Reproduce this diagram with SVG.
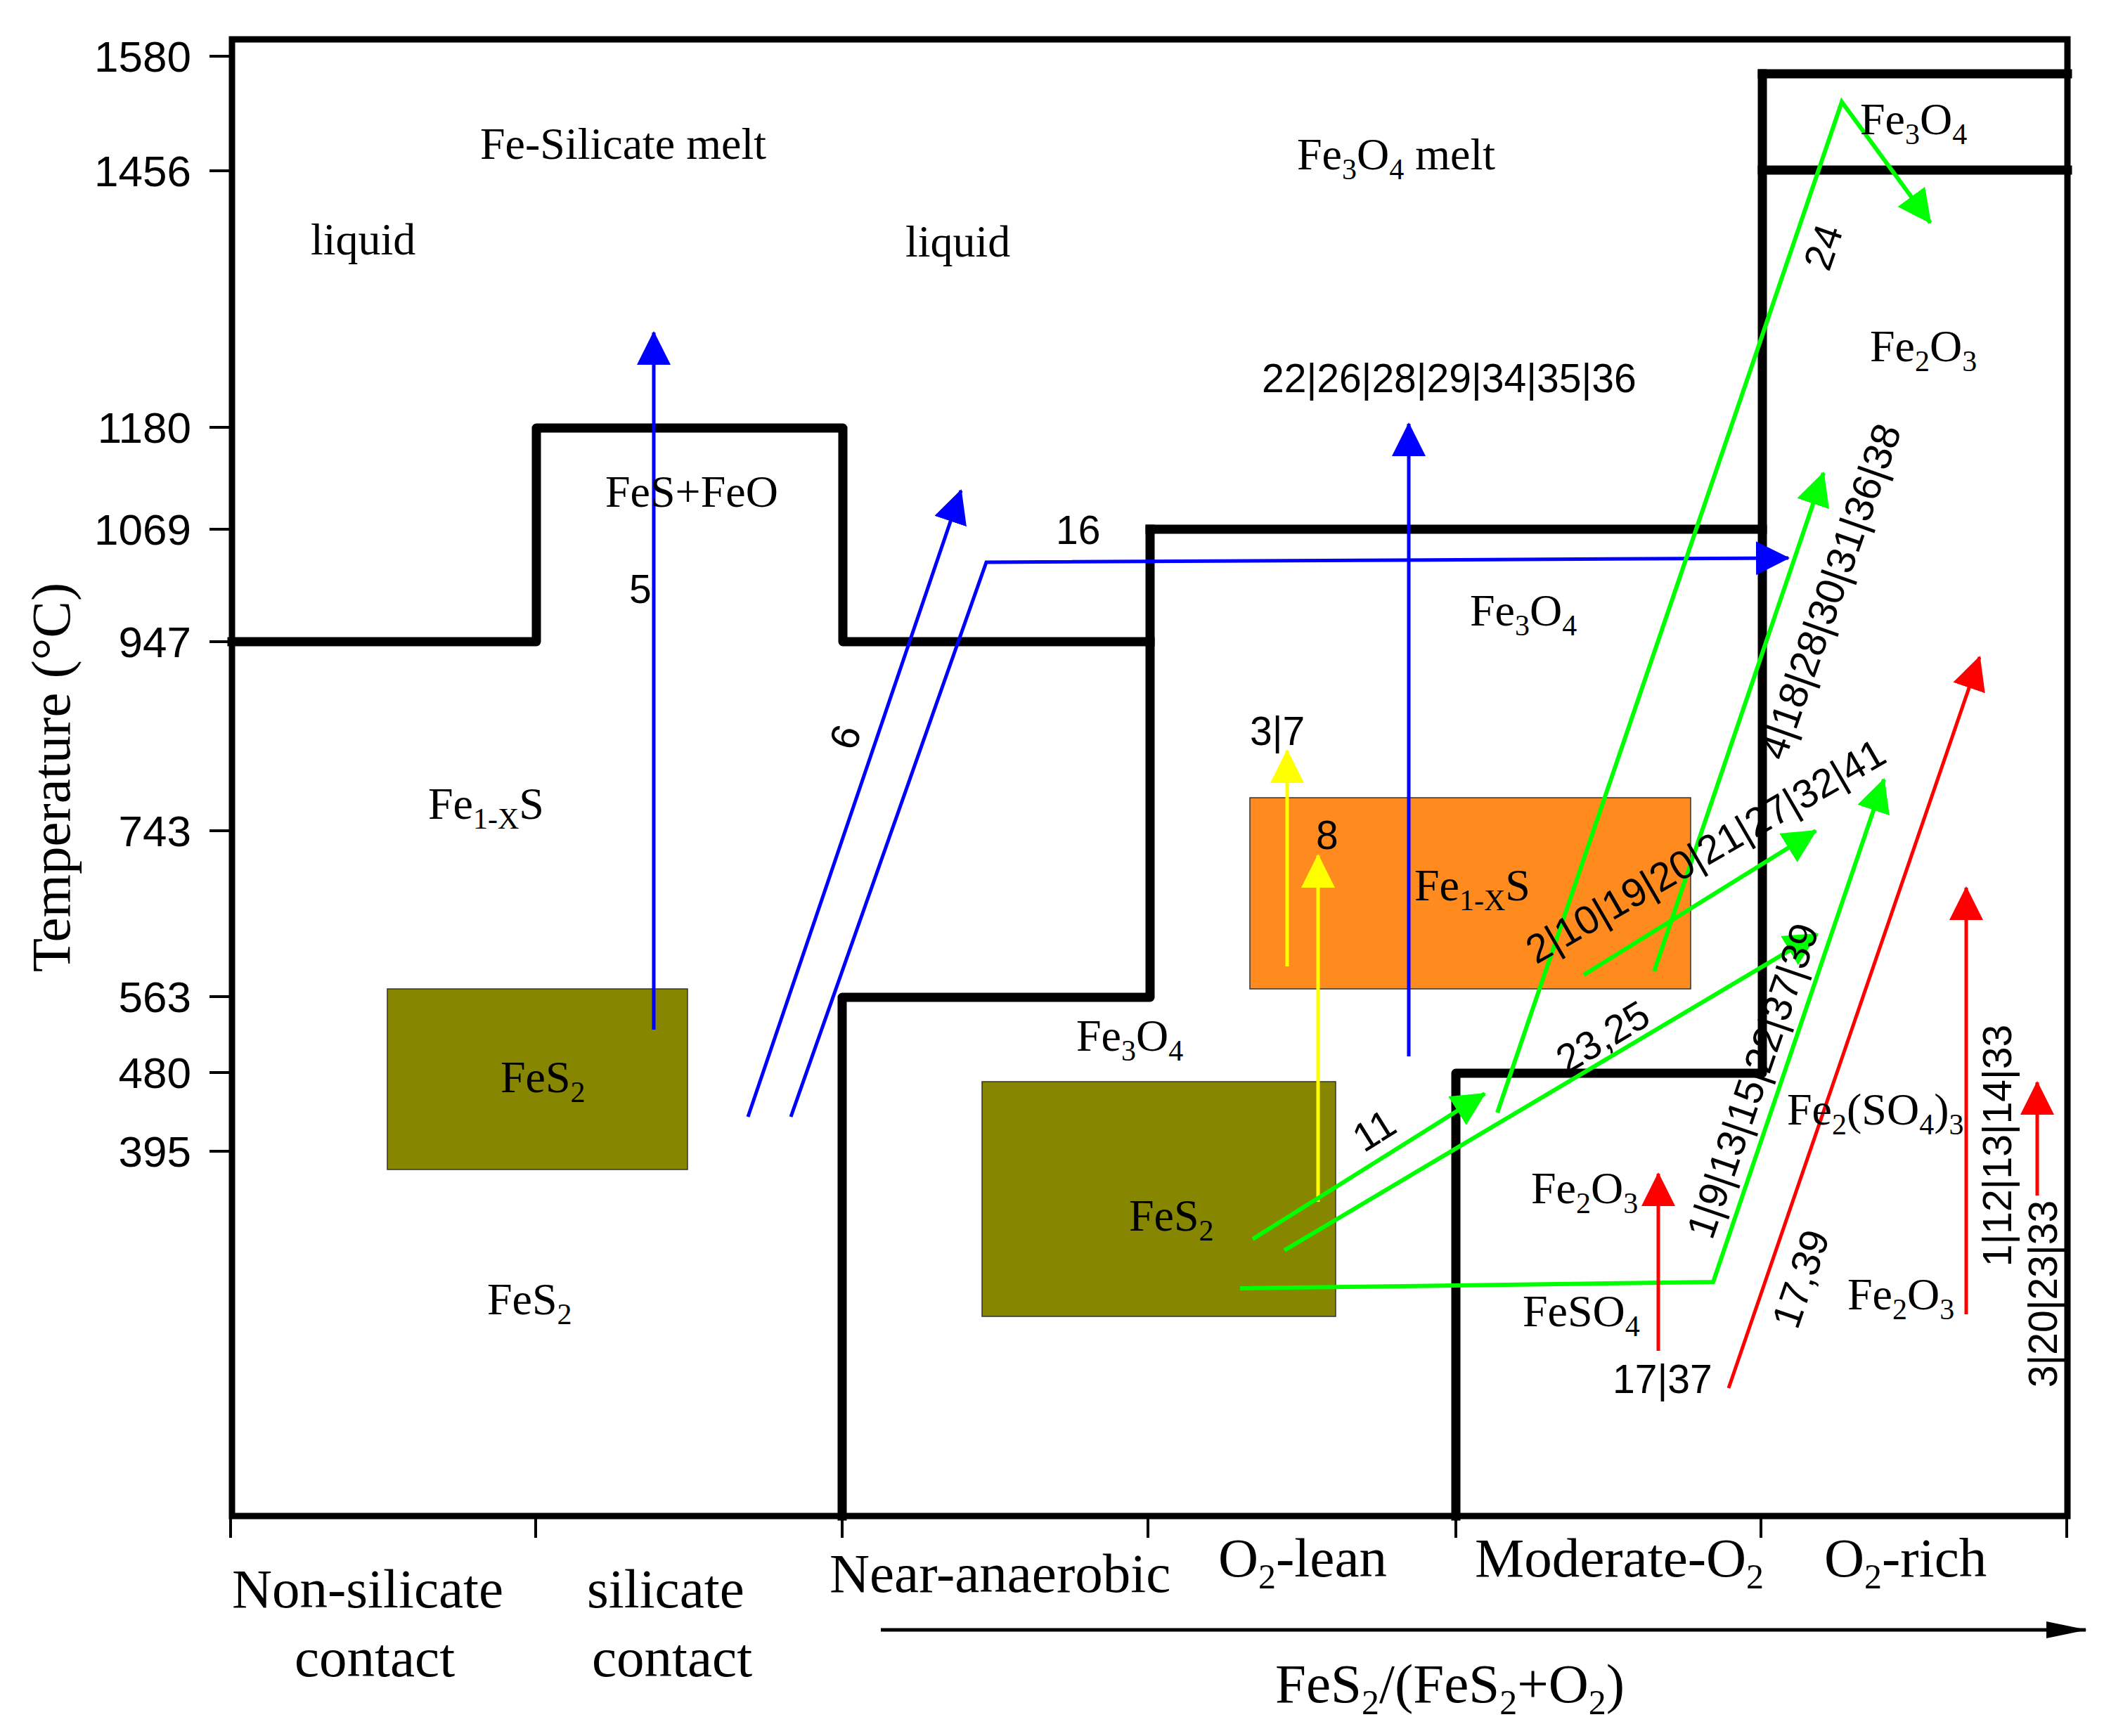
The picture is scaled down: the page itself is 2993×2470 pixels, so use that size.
<svg xmlns="http://www.w3.org/2000/svg" width="2993" height="2470" viewBox="0 0 2993 2470">
<style>
.ph{font-family:"Liberation Serif","Times New Roman",serif;font-size:64px;fill:#000}
.ax{font-family:"Liberation Serif","Times New Roman",serif;font-size:79px;fill:#000}
.sub{font-size:42px}
.axsub{font-size:50px}
.num{font-family:"Liberation Sans",Arial,sans-serif;font-size:57px;fill:#000}
.tick{font-family:"Liberation Sans",Arial,sans-serif;font-size:62px;fill:#000;text-anchor:end}
.frame{stroke:#000;stroke-width:9;fill:none;stroke-linecap:square}
.bound{stroke:#000;stroke-width:13;fill:none;stroke-linejoin:round;stroke-linecap:square}
.tk{stroke:#000;stroke-width:4;fill:none}
.blue{stroke:#0000ff;stroke-width:5;fill:none}
.green{stroke:#00ff00;stroke-width:6;fill:none}
.red{stroke:#ff0000;stroke-width:5;fill:none}
.yellow{stroke:#ffff00;stroke-width:5;fill:none}
.olive{fill:#868600;stroke:#333;stroke-width:1.5}
.orange{fill:#ff8a1e;stroke:#333;stroke-width:1.5}
</style>
<defs>
<marker id="mb" viewBox="0 0 48 48" refX="46" refY="24" markerWidth="48" markerHeight="48" markerUnits="userSpaceOnUse" orient="auto"><path d="M0,0 L48,24 L0,48 z" fill="#0000ff"/></marker>
<marker id="mg" viewBox="0 0 48 48" refX="46" refY="24" markerWidth="48" markerHeight="48" markerUnits="userSpaceOnUse" orient="auto"><path d="M0,0 L48,24 L0,48 z" fill="#00ff00"/></marker>
<marker id="mr" viewBox="0 0 48 48" refX="46" refY="24" markerWidth="48" markerHeight="48" markerUnits="userSpaceOnUse" orient="auto"><path d="M0,0 L48,24 L0,48 z" fill="#ff0000"/></marker>
<marker id="my" viewBox="0 0 48 48" refX="46" refY="24" markerWidth="48" markerHeight="48" markerUnits="userSpaceOnUse" orient="auto"><path d="M0,0 L48,24 L0,48 z" fill="#ffff00"/></marker>
<marker id="mk" viewBox="0 0 58 24" refX="56" refY="12" markerWidth="58" markerHeight="24" markerUnits="userSpaceOnUse" orient="auto"><path d="M0,0 L58,12 L0,24 z" fill="#000"/></marker>
</defs>
<rect width="2993" height="2470" fill="#fff"/>

<!-- region boxes -->
<g id="box-fes2-left"><rect class="olive" x="551" y="1407" width="427" height="257"/></g>
<g id="box-fes2-mid"><rect class="olive" x="1397" y="1539" width="503" height="334"/></g>
<g id="box-fe1xs"><rect class="orange" x="1778" y="1135" width="627" height="272"/></g>

<!-- frame and axes -->
<g id="frame">
<path class="frame" d="M330,56 H2941 V2157 H330 Z"/>
<g class="tk">
<path d="M298,80 H330 M298,243 H330 M298,608 H330 M298,753 H330 M298,913 H330 M298,1182 H330 M298,1418 H330 M298,1526 H330 M298,1638 H330"/>
<path d="M328,2157 V2188 M762,2157 V2188 M1198,2157 V2188 M1633,2157 V2188 M2071,2157 V2188 M2505,2157 V2188 M2940,2157 V2188"/>
</g>
<text class="tick" x="272" y="102">1580</text>
<text class="tick" x="272" y="265">1456</text>
<text class="tick" x="272" y="630">1180</text>
<text class="tick" x="272" y="775">1069</text>
<text class="tick" x="272" y="935">947</text>
<text class="tick" x="272" y="1204">743</text>
<text class="tick" x="272" y="1440">563</text>
<text class="tick" x="272" y="1548">480</text>
<text class="tick" x="272" y="1660">395</text>
<text class="ax" transform="translate(99,1106) rotate(-90)" text-anchor="middle">Temperature (°C)</text>
</g>

<!-- phase boundaries -->
<g id="phase-boundaries">
<path class="bound" d="M330,913 H763 V609 H1199 V913 H1636"/>
<path class="bound" d="M1636,753 H2507"/>
<path class="bound" d="M1636,753 V1419 H1198 V2157"/>
<path class="bound" d="M2507,105 V1527 H2071 V2157"/>
<path class="bound" d="M2507,105 H2941 M2507,242 H2941"/>
</g>

<!-- connectors -->
<g id="connectors">
<path class="blue" d="M930,1465 V473" marker-end="url(#mb)"/>
<path class="blue" d="M1064,1589 L1367,698" marker-end="url(#mb)"/>
<path class="blue" d="M1125,1589 L1403,800 L2544,794" marker-end="url(#mb)"/>
<path class="blue" d="M2004,1503 V603" marker-end="url(#mb)"/>
<path class="yellow" d="M1831,1375 V1068" marker-end="url(#my)"/>
<path class="yellow" d="M1875,1710 V1217" marker-end="url(#my)"/>
<path class="green" d="M1782,1763 L2112,1556" marker-end="url(#mg)"/>
<path class="green" d="M1827,1779 L2585,1329" marker-end="url(#mg)"/>
<path class="green" d="M1764,1833 L2437,1824 L2680,1109" marker-end="url(#mg)"/>
<path class="green" d="M2130,1583 L2620,145 L2746,317" marker-end="url(#mg)"/>
<path class="green" d="M2253,1387 L2583,1182" marker-end="url(#mg)"/>
<path class="green" d="M2353,1382 L2594,673" marker-end="url(#mg)"/>
<path class="red" d="M2359,1922 V1670" marker-end="url(#mr)"/>
<path class="red" d="M2459,1975 L2816,935" marker-end="url(#mr)"/>
<path class="red" d="M2797,1870 V1263" marker-end="url(#mr)"/>
<path class="red" d="M2898,1701 V1540" marker-end="url(#mr)"/>
<path d="M1253,2319 H2967" stroke="#000" stroke-width="5" fill="none" marker-end="url(#mk)"/>
</g>

<!-- region labels -->
<g id="labels-regions">
<text class="ph" x="683" y="226">Fe-Silicate melt</text>
<text class="ph" x="442" y="362">liquid</text>
<text class="ph" x="1288" y="365">liquid</text>
<text class="ph" x="1845" y="241">Fe<tspan class="sub" dy="14">3</tspan><tspan dy="-14">O</tspan><tspan class="sub" dy="14">4</tspan><tspan dy="-14"> melt</tspan></text>
<text class="ph" x="861" y="721">FeS+FeO</text>
<text class="ph" x="2091" y="890">Fe<tspan class="sub" dy="14">3</tspan><tspan dy="-14">O</tspan><tspan class="sub" dy="14">4</tspan></text>
<text class="ph" x="2646" y="191">Fe<tspan class="sub" dy="14">3</tspan><tspan dy="-14">O</tspan><tspan class="sub" dy="14">4</tspan></text>
<text class="ph" x="2660" y="514">Fe<tspan class="sub" dy="14">2</tspan><tspan dy="-14">O</tspan><tspan class="sub" dy="14">3</tspan></text>
<text class="ph" x="609" y="1165">Fe<tspan class="sub" dy="14">1-X</tspan><tspan dy="-14">S</tspan></text>
<text class="ph" x="712" y="1554">FeS<tspan class="sub" dy="14">2</tspan></text>
<text class="ph" x="693" y="1870">FeS<tspan class="sub" dy="14">2</tspan></text>
<text class="ph" x="1531" y="1495">Fe<tspan class="sub" dy="14">3</tspan><tspan dy="-14">O</tspan><tspan class="sub" dy="14">4</tspan></text>
<text class="ph" x="1606" y="1751">FeS<tspan class="sub" dy="14">2</tspan></text>
<text class="ph" x="2012" y="1281">Fe<tspan class="sub" dy="14">1-X</tspan><tspan dy="-14">S</tspan></text>
<text class="ph" x="2178" y="1712">Fe<tspan class="sub" dy="14">2</tspan><tspan dy="-14">O</tspan><tspan class="sub" dy="14">3</tspan></text>
<text class="ph" x="2166" y="1887">FeSO<tspan class="sub" dy="14">4</tspan></text>
<text class="ph" x="2542" y="1600">Fe<tspan class="sub" dy="14">2</tspan><tspan dy="-14">(SO</tspan><tspan class="sub" dy="14">4</tspan><tspan dy="-14">)</tspan><tspan class="sub" dy="14">3</tspan></text>
<text class="ph" x="2628" y="1863">Fe<tspan class="sub" dy="14">2</tspan><tspan dy="-14">O</tspan><tspan class="sub" dy="14">3</tspan></text>
</g>

<!-- connector labels -->
<g id="labels-connectors">
<text class="num" x="895" y="858">5</text>
<text class="num" x="1502" y="774">16</text>
<text class="num" x="1795" y="558">22|26|28|29|34|35|36</text>
<text class="num" x="1778" y="1060">3|7</text>
<text class="num" x="1872" y="1208">8</text>
<text class="num" x="2294" y="1982">17|37</text>
<text class="num" text-anchor="middle" transform="translate(1221,1055) rotate(-71)">6</text>
<text class="num" text-anchor="middle" transform="translate(2612,358) rotate(-71)">24</text>
<text class="num" text-anchor="middle" transform="translate(1965,1625) rotate(-32)">11</text>
<text class="num" text-anchor="middle" transform="translate(2290,1492) rotate(-31)">23,25</text>
<text class="num" text-anchor="middle" transform="translate(2436,1228) rotate(-30)">2|10|19|20|21|27|32|41</text>
<text class="num" text-anchor="middle" transform="translate(2622,848) rotate(-70.6)">4|18|28|30|31|36|38</text>
<text class="num" text-anchor="middle" transform="translate(2512,1544) rotate(-71)">1|9|13|15|22|37|39</text>
<text class="num" text-anchor="middle" transform="translate(2580,1826) rotate(-71)">17,39</text>
<text class="num" text-anchor="middle" transform="translate(2861,1630) rotate(-90)">1|12|13|14|33</text>
<text class="num" text-anchor="middle" transform="translate(2926,1841) rotate(-90)">3|20|23|33</text>
</g>

<!-- x axis labels -->
<g id="labels-axis">
<text class="ax" x="330" y="2287">Non-silicate</text>
<text class="ax" x="419" y="2385">contact</text>
<text class="ax" x="835" y="2287">silicate</text>
<text class="ax" x="842" y="2385">contact</text>
<text class="ax" x="1180" y="2265">Near-anaerobic</text>
<text class="ax" x="1733" y="2243">O<tspan class="axsub" dy="17">2</tspan><tspan dy="-17">-lean</tspan></text>
<text class="ax" x="2098" y="2243">Moderate-O<tspan class="axsub" dy="17">2</tspan></text>
<text class="ax" x="2595" y="2243">O<tspan class="axsub" dy="17">2</tspan><tspan dy="-17">-rich</tspan></text>
<text class="ax" x="1814" y="2422">FeS<tspan class="axsub" dy="17">2</tspan><tspan dy="-17">/(FeS</tspan><tspan class="axsub" dy="17">2</tspan><tspan dy="-17">+O</tspan><tspan class="axsub" dy="17">2</tspan><tspan dy="-17">)</tspan></text>
</g>
</svg>
